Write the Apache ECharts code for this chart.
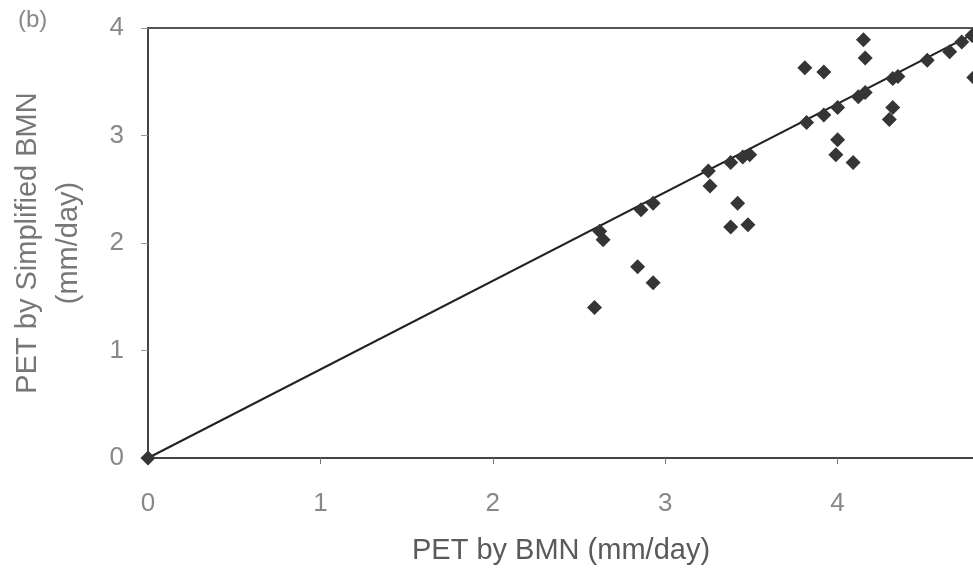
<!DOCTYPE html>
<html>
<head>
<meta charset="utf-8">
<script src="https://cdn.jsdelivr.net/npm/echarts@6/dist/echarts.min.js"></script>
<style>html,body{margin:0;padding:0;background:#fff;}#c{width:973px;height:575px;}</style>
</head>
<body>
<div id="c"></div>
<script>
const xTicks = ['0', '1', '2', '3', '4', '5'];
const yTicks = ['0', '1', '2', '3', '4'];
const pointX = [0, 2.62, 2.64, 2.59, 2.84, 2.93, 2.86, 2.93, 3.25, 3.26, 3.38, 3.45, 3.49, 3.42, 3.38, 3.48,
  3.81, 3.92, 4.15, 4.16, 3.82, 3.92, 4.00, 4.12, 4.16, 4.32, 4.35, 4.52, 4.65, 4.72, 4.78, 4.32, 4.30,
  4.00, 3.99, 4.09, 4.79];
const pointY = [0, 2.11, 2.03, 1.40, 1.78, 1.63, 2.31, 2.37, 2.67, 2.53, 2.75, 2.80, 2.82, 2.37, 2.15, 2.17,
  3.63, 3.59, 3.89, 3.72, 3.12, 3.19, 3.26, 3.36, 3.40, 3.53, 3.55, 3.70, 3.78, 3.87, 3.93, 3.26, 3.15,
  2.96, 2.82, 2.75, 3.54];
const lineX = [0, 5];
const lineY = [0, 4.12];

const scatterData = pointX.map((x, i) => [x, pointY[i]]);
const lineData = lineX.map((x, i) => [x, lineY[i]]);

const chart = echarts.init(document.getElementById('c'), null, {renderer: 'canvas'});
const font = 'Liberation Sans, Arial, sans-serif';
chart.setOption({
  animation: false,
  backgroundColor: '#ffffff',
  title: {
    text: '(b)', left: 13, top: 3,
    textStyle: {fontFamily: font, fontSize: 24, fontWeight: 'normal', color: '#888'}
  },
  grid: {
    left: 148, top: 28, bottom: 117, right: -37,
    containLabel: false, outerBoundsMode: 'none',
    show: true, borderColor: '#555', borderWidth: 2, backgroundColor: 'transparent'
  },
  xAxis: {
    type: 'value', min: 0, max: 5, interval: 1,
    name: 'PET by BMN (mm/day)', nameLocation: 'middle', nameGap: 78,
    nameTextStyle: {fontFamily: font, fontSize: 29, color: '#5a5a5a', padding: [0, 36, 0, 0]},
    axisLine: {show: true, lineStyle: {color: '#444', width: 2}},
    axisTick: {show: true, length: 6, lineStyle: {color: '#777', width: 1}},
    axisLabel: {fontFamily: font, fontSize: 26, color: '#888', margin: 33,
      formatter: v => xTicks[Math.round(v)]},
    splitLine: {show: false}
  },
  yAxis: {
    type: 'value', min: 0, max: 4, interval: 1,
    name: 'PET by Simplified BMN\n(mm/day)', nameLocation: 'middle', nameGap: 59,
    nameTextStyle: {fontFamily: font, fontSize: 29, color: '#777', lineHeight: 41},
    axisLine: {show: true, lineStyle: {color: '#444', width: 2}},
    axisTick: {show: true, length: 7, lineStyle: {color: '#999', width: 1}},
    axisLabel: {fontFamily: font, fontSize: 26, color: '#888', margin: 24,
      formatter: v => yTicks[Math.round(v)]},
    splitLine: {show: false}
  },
  series: [
    {
      type: 'line', data: lineData, showSymbol: false, symbol: 'none',
      lineStyle: {color: '#222', width: 2}, z: 2
    },
    {
      type: 'scatter', data: scatterData, symbol: 'diamond', symbolSize: 15,
      itemStyle: {color: '#353535', opacity: 1}, z: 3
    }
  ]
});
</script>
</body>
</html>
